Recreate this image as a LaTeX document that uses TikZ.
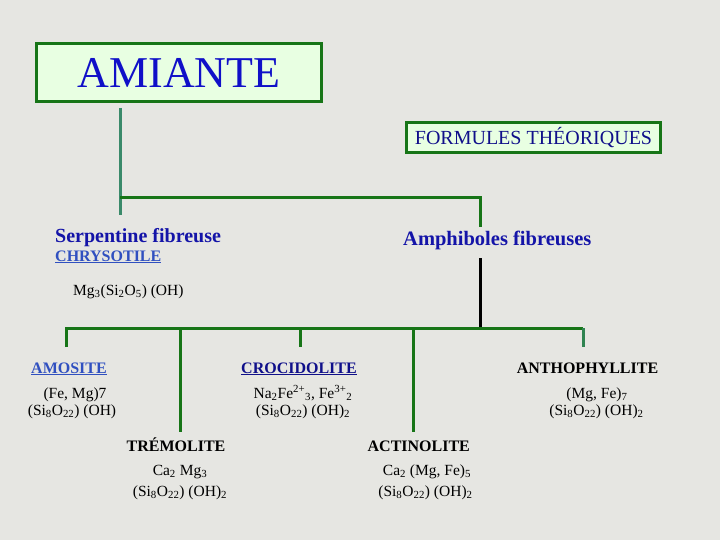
\documentclass[tikz,border=0pt]{standalone}
\usepackage{fontspec}
\setmainfont{Liberation Serif}
\definecolor{bgc}{HTML}{E6E6E2}
\definecolor{boxfill}{HTML}{E8FFE2}
\definecolor{dgreen}{HTML}{177517}
\definecolor{tealg}{HTML}{3A8A6A}
\definecolor{titleblue}{HTML}{1010C8}
\definecolor{navy}{HTML}{10108A}
\definecolor{midblue}{HTML}{1414A8}
\definecolor{lblue}{HTML}{3050C0}
\newcommand{\fs}[1]{\fontsize{#1}{#1}\selectfont}
\newcommand{\sbs}[1]{\textsubscript{#1}}
\newcommand{\sps}[1]{\textsuperscript{#1}}
\tikzset{
  titlebox/.style={draw=dgreen, fill=boxfill, line width=3pt, inner sep=0pt},
  grline/.style={draw=dgreen, line width=3pt},
  tline/.style={draw=tealg, line width=3pt},
  kline/.style={draw=black, line width=3pt},
  lbl/.style={inner sep=0pt, anchor=base},
  frm/.style={inner sep=0pt, anchor=base, font=\fs{15.5}},
  mineral/.style={inner sep=0pt, anchor=base, font=\fs{16}\bfseries},
}
\begin{document}
\begin{tikzpicture}[x=1pt,y=-1pt]
\fill[bgc] (0,0) rectangle (720,540);
\useasboundingbox (0,0) rectangle (720,540);

\node[titlebox, minimum width=285pt, minimum height=58pt, text=titleblue, font=\fs{44}] (amiante) at (179,72.5) {AMIANTE};
\node[titlebox, minimum width=254pt, minimum height=30pt, text=navy, font=\fs{20}] (formules) at (533.5,137.5) {FORMULES THÉORIQUES};

\node[lbl, anchor=base west, text=midblue, font=\fs{20}\bfseries] (serp) at (55,242) {Serpentine fibreuse};
\node[lbl, anchor=base west, text=lblue, font=\fs{16}\bfseries] (chrys) at (55,261) {\underline{CHRYSOTILE}};
\node[frm, anchor=base west] (mg) at (73,295) {Mg\sbs{3}(Si\sbs{2}O\sbs{5}) (OH)};
\node[lbl, anchor=base west, text=midblue, font=\fs{20.5}\bfseries] (amph) at (403,245) {Amphiboles fibreuses};

\node[mineral, text=lblue] (amosite) at (69,373) {\underline{AMOSITE}};
\node[frm] (amo1) at (75,398) {(Fe, Mg)7};
\node[frm] (amo2) at (72,415) {(Si\sbs{8}O\sbs{22}) (OH)};

\node[mineral, text=navy] (croc) at (299,373) {\underline{CROCIDOLITE}};
\node[frm] (croc1) at (303,398) {Na\sbs{2}Fe\sps{2+}\sbs{3}, Fe\sps{3+}\sbs{2}};
\node[frm] (croc2) at (303,415) {(Si\sbs{8}O\sbs{22}) (OH)\sbs{2}};

\node[mineral] (antho) at (587.5,373) {ANTHOPHYLLITE};
\node[frm] (antho1) at (597,398) {(Mg, Fe)\sbs{7}};
\node[frm] (antho2) at (596.5,415) {(Si\sbs{8}O\sbs{22}) (OH)\sbs{2}};

\node[mineral] (trem) at (176,451) {TRÉMOLITE};
\node[frm] (trem1) at (180,475) {Ca\sbs{2} Mg\sbs{3}};
\node[frm] (trem2) at (180,496) {(Si\sbs{8}O\sbs{22}) (OH)\sbs{2}};

\node[mineral] (actino) at (418.8,451) {ACTINOLITE};
\node[frm] (actino1) at (427,475) {Ca\sbs{2} (Mg, Fe)\sbs{5}};
\node[frm] (actino2) at (425.5,496) {(Si\sbs{8}O\sbs{22}) (OH)\sbs{2}};

% junction coordinates
\coordinate (a0) at (120,108);
\coordinate (a1) at (120,215);
\coordinate (j0) at (120,198);
\coordinate (j1) at (480,198);
\coordinate (j2) at (480,227);
\coordinate (b0) at (480,258);
\coordinate (b1) at (480,328);
\coordinate (h0) at (66,328);
\coordinate (h1) at (583,328);
\coordinate (dAmo) at (66,347);
\coordinate (dTrem) at (180,432);
\coordinate (dCroc) at (300,347);
\coordinate (dAct) at (413,432);
\coordinate (dAnt) at (583,347);

\draw[tline] (a0) -- (a1);
\draw[grline] (j0) -- (j1) -- (j2);
\draw[kline] (b0) -- (b1);
\draw[grline] (dAmo) -- (h0) -- (h1);
\draw[grline] (dTrem |- h0) -- (dTrem);
\draw[grline] (dCroc |- h0) -- (dCroc);
\draw[grline] (dAct |- h0) -- (dAct);
\draw[draw=tealg!70!dgreen, line width=3pt] (h1) -- (dAnt);
\end{tikzpicture}
\end{document}
